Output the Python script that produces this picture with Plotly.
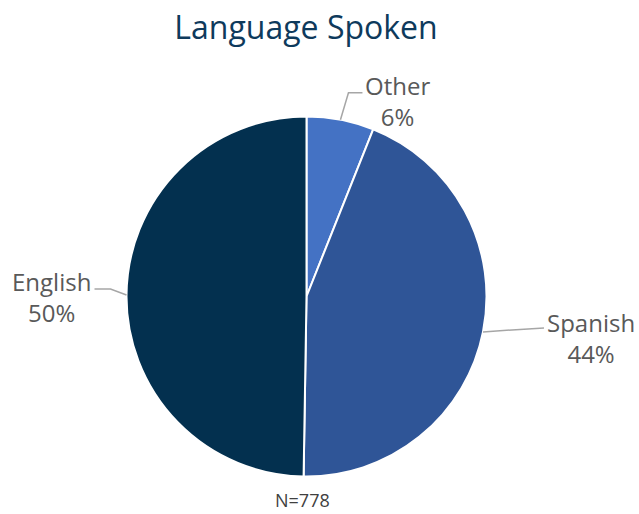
import math
import plotly.graph_objects as go

labels = ["Other", "Spanish", "English"]
counts = [47, 344, 387]
colors = ["#4472C4", "#2F5597", "#03304F"]
title_text = "Language Spoken"
note_text = "N=778"

W, H = 639, 514
cx, cy, R = 306.5, 296.5, 180.0  # pixel layout of the pie


def px2paper(x, y):
    return x / W, 1 - y / H


fig = go.Figure(go.Pie(
    labels=labels, values=counts, sort=False, direction="clockwise", rotation=0,
    marker=dict(colors=colors, line=dict(color="white", width=2)),
    textinfo="none", hoverinfo="label+percent", showlegend=False,
    domain=dict(x=[(cx - R) / W, (cx + R) / W],
                y=[(H - cy - R) / H, (H - cy + R) / H]),
))

total = sum(counts)
offsets = {
    "Other": [(8, -27), (22, -27)],
    "Spanish": [(61, -4)],
    "English": [(-16, -6), (-32, -6)],
}
label_pos = {"Other": (397, 101), "Spanish": (591, 338), "English": (51, 297)}

shapes = []
annotations = []
cum = 0
for lab, c in zip(labels, counts):
    mid = (cum + c / 2) / total * 2 * math.pi
    cum += c
    sx = cx + R * math.sin(mid)
    sy = cy - R * math.cos(mid)
    pts = [(sx, sy)] + [(sx + dx, sy + dy) for dx, dy in offsets[lab]]
    path = "M " + " L ".join(f"{px2paper(x, y)[0]:.5f},{px2paper(x, y)[1]:.5f}" for x, y in pts)
    shapes.append(dict(type="path", xref="paper", yref="paper", path=path,
                       line=dict(color="#A6A6A6", width=1.5)))
    lx, ly = px2paper(*label_pos[lab])
    pct = round(c / total * 100)
    annotations.append(dict(x=lx, y=ly, xref="paper", yref="paper", showarrow=False,
                            xanchor="center", yanchor="middle",
                            text=f"{lab}<br>{pct}%", align="center",
                            font=dict(family="Open Sans", size=24, color="#595959")))

annotations.append(dict(x=302 / W, y=0, xref="paper", yref="paper", showarrow=False,
                        xanchor="center", yanchor="bottom",
                        text=note_text, font=dict(family="Open Sans", size=18, color="#404040")))

tx, ty = px2paper(306, 28)
fig.update_layout(
    width=W, height=H, margin=dict(l=0, r=0, t=0, b=0),
    paper_bgcolor="white", plot_bgcolor="white",
    title=dict(text=title_text, x=tx, xanchor="center", y=ty, yanchor="middle",
               font=dict(family="Open Sans", size=32, color="#0E3A5C")),
    shapes=shapes, annotations=annotations,
)

fig.write_html("out.html", config={"displayModeBar": False},
               post_script="document.body.style.margin='0';document.body.style.overflow='hidden';")
